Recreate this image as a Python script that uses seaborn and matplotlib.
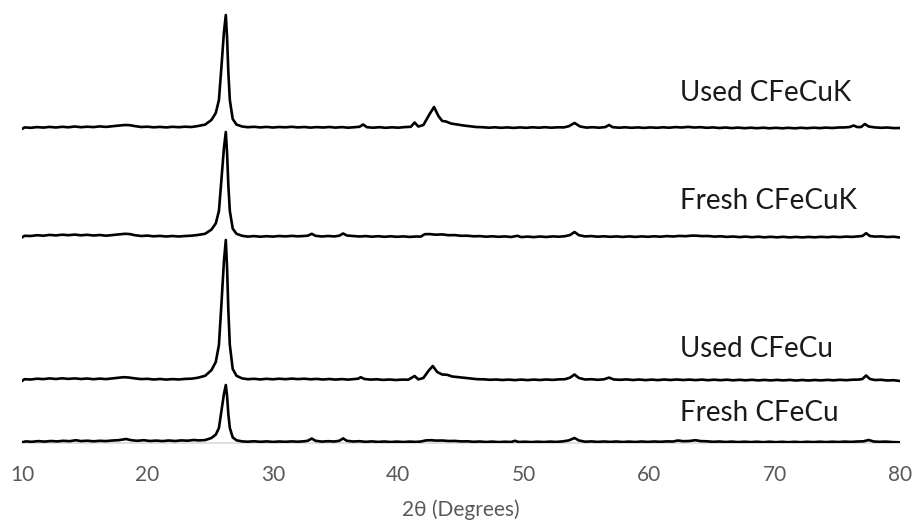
import numpy as np
import pandas as pd
import seaborn as sns
import matplotlib.pyplot as plt

# XRD traces: (2theta, intensity above own baseline, a.u.)
used_cfecuk = [
    (10.0, -1.0), (10.2, 0.6), (10.7, 0.2), (11.2, 0.9), (11.7, 0.4), (12.2, 1.1), (12.7, 0.5),
    (13.2, 1.2), (13.7, 0.7), (14.2, 1.5), (14.7, 0.8), (15.2, 1.3), (15.7, 0.9), (16.2, 1.6),
    (16.7, 1.1), (17.2, 1.8), (17.7, 2.4), (18.2, 3.0), (18.6, 2.8), (19.0, 1.9), (19.5, 1.0),
    (20.0, 1.3), (20.5, 0.7), (21.0, 1.1), (21.5, 0.6), (22.0, 1.2), (22.5, 0.8), (23.0, 1.3),
    (23.5, 1.0), (24.0, 1.9),
    (24.6, 3.4), (25.1, 8), (25.45, 15), (25.7, 28), (25.9, 61), (26.1, 96), (26.25, 113),
    (26.35, 90), (26.45, 56), (26.57, 28), (26.8, 9), (27.1, 3.4), (27.55, 1.5),
    (28.0, 0.8), (28.5, 1.2), (29.0, 0.6), (29.5, 1.1), (30.0, 0.5), (30.5, 1.0), (31.0, 0.7),
    (31.5, 1.2), (32.0, 0.6), (32.5, 1.0), (33.0, 0.4), (33.5, 0.9), (34.0, 0.5), (34.5, 1.0),
    (35.0, 0.4), (35.5, 0.9), (36.0, 0.3), (36.5, 0.8), (36.9, 1.2), (37.2, 3.5), (37.5, 0.8),
    (38.0, 0.3), (38.5, 0.8), (39.0, 0.2), (39.5, 0.7), (40.0, 0.3), (40.5, 0.9), (41.0, 1.2),
    (41.3, 5.5), (41.6, 1.5), (42.0, 3.0), (42.5, 14), (42.85, 21), (43.2, 12), (43.5, 7),
    (43.8, 6.5), (44.2, 4.5), (44.7, 3.5), (45.2, 2.5), (45.7, 1.8), (46.2, 1.0), (46.7, 0.8),
    (47.2, 0.3), (47.7, 0.7), (48.2, 0.2), (48.7, 0.6), (49.2, 0.1), (49.7, 0.6), (50.2, 0.2),
    (50.7, 0.7), (51.2, 0.3), (51.7, 0.8), (52.2, 0.3), (52.7, 0.7), (53.2, 0.6), (53.6, 1.8),
    (54.05, 5.0), (54.5, 1.5), (55.0, 0.4), (55.5, 0.8), (56.0, 0.3), (56.5, 0.9), (56.8, 3.0),
    (57.1, 0.8), (57.6, 0.3), (58.1, 0.7), (58.6, 0.2), (59.1, 0.6), (59.6, 0.1), (60.1, 0.6),
    (60.6, 0.2), (61.1, 0.7), (61.6, 0.3), (62.1, 0.9), (62.6, 0.5), (63.1, 1.1), (63.6, 0.5),
    (64.1, 0.8), (64.6, 0.2), (65.1, 0.6), (65.6, 0.0), (66.1, 0.5), (66.6, -0.1), (67.1, 0.4),
    (67.6, -0.2), (68.1, 0.3), (68.6, -0.2), (69.1, 0.3), (69.6, -0.3), (70.1, 0.2), (70.6, -0.3),
    (71.1, 0.2), (71.6, -0.3), (72.1, 0.2), (72.6, -0.2), (73.1, 0.3), (73.6, -0.1), (74.1, 0.4),
    (74.6, 0.0), (75.1, 0.5), (75.6, 0.6), (76.0, 1.0), (76.3, 2.5), (76.6, 0.9), (76.9, 1.0),
    (77.2, 4.0), (77.5, 1.5), (78.0, 0.6), (78.5, 0.2), (79.0, 0.5), (79.5, -0.1), (80.0, 0.0),
]

fresh_cfecuk = [
    (10.0, -0.5), (10.2, 1.2), (10.7, 1.0), (11.2, 1.8), (11.7, 1.3), (12.2, 2.1), (12.7, 1.6),
    (13.2, 2.3), (13.7, 1.8), (14.2, 2.4), (14.7, 1.7), (15.2, 2.2), (15.7, 1.5), (16.2, 2.0),
    (16.7, 1.3), (17.2, 1.9), (17.7, 2.4), (18.2, 3.2), (18.6, 2.9), (19.0, 1.8), (19.5, 1.0),
    (20.0, 1.4), (20.5, 0.7), (21.0, 1.1), (21.5, 0.5), (22.0, 1.0), (22.5, 0.5), (23.0, 1.0),
    (23.5, 1.3), (24.0, 2.0),
    (24.6, 3.2), (25.1, 7.4), (25.45, 13.6), (25.7, 26), (25.9, 57), (26.1, 89), (26.25, 105),
    (26.35, 84), (26.45, 52), (26.57, 26), (26.8, 8.4), (27.1, 3.2), (27.55, 1.2),
    (28.0, 0.4), (28.5, 0.9), (29.0, 0.3), (29.5, 0.8), (30.0, 0.4), (30.5, 1.0), (31.0, 0.6),
    (31.5, 1.1), (32.0, 0.7), (32.5, 1.0), (32.8, 1.4), (33.1, 3.2), (33.4, 1.2), (33.9, 0.5),
    (34.4, 1.0), (34.9, 0.6), (35.3, 1.3), (35.6, 3.5), (35.9, 1.5), (36.4, 1.0), (36.9, 0.5),
    (37.4, 0.9), (37.9, 0.3), (38.4, 0.8), (38.9, 0.2), (39.4, 0.7), (39.9, 0.2), (40.4, 0.6),
    (40.9, 0.1), (41.4, 0.5), (41.8, 0.4), (42.1, 2.8), (42.5, 2.9), (43.0, 2.3), (43.5, 2.6),
    (44.0, 1.8), (44.5, 1.9), (45.0, 1.2), (45.5, 1.3), (46.0, 0.7), (46.5, 0.9), (47.0, 0.3),
    (47.5, 0.7), (48.0, 0.2), (48.5, 0.6), (49.0, 0.0), (49.5, 1.2), (49.8, -0.1), (50.3, 0.4),
    (50.8, -0.1), (51.3, 0.5), (51.8, 0.0), (52.3, 0.6), (52.8, 0.3), (53.3, 0.8), (53.7, 2.0),
    (54.05, 5.0), (54.4, 1.8), (54.9, 0.6), (55.4, 0.9), (55.9, 0.3), (56.4, 0.7), (56.9, 0.2),
    (57.4, 0.6), (57.9, 0.1), (58.4, 0.6), (58.9, 0.1), (59.4, 0.6), (59.9, 0.2), (60.4, 0.7),
    (60.9, 0.3), (61.4, 0.9), (61.9, 0.5), (62.4, 1.1), (62.9, 0.8), (63.4, 1.4), (63.8, 1.3),
    (64.2, 0.9), (64.7, 1.0), (65.2, 0.4), (65.7, 0.7), (66.2, 0.1), (66.7, 0.5), (67.2, -0.1),
    (67.7, 0.4), (68.2, -0.2), (68.7, 0.3), (69.2, -0.3), (69.7, 0.2), (70.2, -0.3), (70.7, 0.2),
    (71.2, -0.4), (71.7, 0.1), (72.2, -0.4), (72.7, 0.1), (73.2, -0.3), (73.7, 0.2), (74.2, -0.2),
    (74.7, 0.3), (75.2, -0.1), (75.7, 0.4), (76.2, 0.1), (76.7, 0.6), (77.0, 1.0), (77.3, 3.8),
    (77.6, 1.0), (78.0, 0.4), (78.5, 0.6), (79.0, 0.0), (79.5, 0.3), (80.0, -0.5),
]

used_cfecu = [
    (10.0, -1.0), (10.2, 0.8), (10.7, 0.5), (11.2, 1.3), (11.7, 0.9), (12.2, 1.6), (12.7, 1.0),
    (13.2, 1.7), (13.7, 1.1), (14.2, 1.6), (14.7, 1.0), (15.2, 1.5), (15.7, 0.8), (16.2, 1.4),
    (16.7, 0.9), (17.2, 1.6), (17.7, 2.2), (18.1, 2.8), (18.5, 2.5), (19.0, 1.6), (19.5, 0.9),
    (20.0, 1.2), (20.5, 0.5), (21.0, 1.0), (21.5, 0.4), (22.0, 0.9), (22.5, 0.5), (23.0, 1.1),
    (23.5, 1.3), (24.0, 2.2),
    (24.6, 4.2), (25.1, 9.8), (25.45, 18), (25.7, 35), (25.9, 76), (26.1, 119), (26.25, 140),
    (26.35, 112), (26.45, 70), (26.57, 35), (26.8, 11), (27.1, 4.2), (27.55, 1.6),
    (28.0, 0.8), (28.5, 1.2), (29.0, 0.6), (29.5, 1.2), (30.0, 0.7), (30.5, 1.3), (31.0, 0.8),
    (31.5, 1.4), (32.0, 0.9), (32.5, 1.3), (33.0, 0.7), (33.5, 1.1), (34.0, 0.5), (34.5, 1.0),
    (35.0, 0.4), (35.5, 0.9), (36.0, 0.4), (36.5, 0.9), (36.8, 1.3), (37.0, 2.8), (37.3, 1.0),
    (37.8, 0.4), (38.3, 0.7), (38.8, 0.1), (39.3, 0.5), (39.8, 0.0), (40.3, 0.4), (40.8, 0.3),
    (41.3, 4.0), (41.6, 0.6), (42.0, 2.0), (42.4, 9.0), (42.75, 14.0), (43.1, 8.0), (43.5, 5.5),
    (43.9, 5.2), (44.3, 3.5), (44.8, 2.8), (45.3, 2.0), (45.8, 1.5), (46.3, 0.8), (46.8, 0.7),
    (47.3, 0.2), (47.8, 0.5), (48.3, 0.0), (48.8, 0.4), (49.3, -0.1), (49.8, 0.4), (50.3, -0.1),
    (50.8, 0.4), (51.3, 0.0), (51.8, 0.5), (52.3, 0.1), (52.8, 0.6), (53.3, 0.8), (53.7, 2.4),
    (54.05, 5.5), (54.4, 2.0), (54.9, 0.5), (55.4, 0.8), (55.9, 0.2), (56.4, 0.7), (56.8, 2.4),
    (57.2, 0.5), (57.7, 0.2), (58.2, 0.6), (58.7, 0.0), (59.2, 0.5), (59.7, -0.1), (60.2, 0.4),
    (60.7, -0.1), (61.2, 0.5), (61.7, 0.0), (62.2, 0.5), (62.7, 0.0), (63.2, 0.4), (63.7, -0.1),
    (64.2, 0.4), (64.7, -0.2), (65.2, 0.3), (65.7, -0.2), (66.2, 0.3), (66.7, -0.3), (67.2, 0.2),
    (67.7, -0.3), (68.2, 0.2), (68.7, -0.4), (69.2, 0.1), (69.7, -0.4), (70.2, 0.1), (70.7, -0.4),
    (71.2, 0.1), (71.7, -0.5), (72.2, 0.0), (72.7, -0.5), (73.2, 0.0), (73.7, -0.4), (74.2, 0.1),
    (74.7, -0.3), (75.2, 0.2), (75.7, -0.2), (76.2, 0.3), (76.7, 0.4), (77.0, 1.0), (77.3, 4.5),
    (77.6, 1.0), (78.0, 0.0), (78.5, 0.2), (79.0, -0.5), (79.5, -0.2), (80.0, -1.0),
]

fresh_cfecu = [
    (10.0, -0.3), (10.3, 0.6), (10.8, 0.2), (11.3, 0.9), (11.8, 0.4), (12.3, 1.0), (12.8, 0.6),
    (13.3, 1.2), (13.8, 0.8), (14.3, 1.8), (14.7, 0.9), (15.2, 1.3), (15.7, 0.7), (16.2, 1.2),
    (16.7, 0.9), (17.2, 1.5), (17.7, 1.8), (18.3, 3.0), (18.7, 1.8), (19.2, 1.2), (19.7, 1.8),
    (20.2, 1.0), (20.7, 1.4), (21.2, 0.9), (21.7, 1.5), (22.2, 1.0), (22.7, 1.6), (23.2, 1.3),
    (23.7, 2.0), (24.1, 1.6),
    (24.6, 1.9), (25.1, 4), (25.45, 7.4), (25.7, 14), (25.9, 31), (26.1, 48), (26.25, 57),
    (26.35, 46), (26.45, 28), (26.57, 14), (26.8, 4.6), (27.1, 1.7), (27.55, 0.6),
    (28.0, 0.3), (28.5, 0.7), (29.0, 0.2), (29.5, 0.6), (30.0, 0.1), (30.5, 0.5), (31.0, 0.2),
    (31.5, 0.6), (32.0, 0.3), (32.5, 0.7), (32.8, 1.3), (33.1, 3.5), (33.4, 1.2), (33.9, 0.4),
    (34.4, 0.8), (34.9, 0.5), (35.3, 1.2), (35.6, 3.6), (35.9, 1.2), (36.4, 0.5), (36.9, 0.8),
    (37.4, 0.2), (37.9, 0.6), (38.4, 0.1), (38.9, 0.5), (39.4, 0.0), (39.9, 0.4), (40.4, 0.0),
    (40.9, 0.4), (41.4, 0.1), (41.8, 0.5), (42.2, 1.6), (42.6, 1.8), (43.0, 1.4), (43.5, 1.5),
    (44.0, 1.0), (44.5, 1.1), (45.0, 0.6), (45.5, 0.7), (46.0, 0.2), (46.5, 0.5), (47.0, 0.0),
    (47.5, 0.4), (48.0, -0.1), (48.5, 0.3), (49.0, 0.0), (49.3, 1.2), (49.6, 0.0), (50.1, 0.3),
    (50.6, -0.1), (51.1, 0.3), (51.6, 0.0), (52.1, 0.4), (52.6, 0.1), (53.1, 0.6), (53.6, 1.6),
    (54.05, 4.0), (54.4, 1.5), (54.9, 0.3), (55.4, 0.6), (55.9, 0.1), (56.4, 0.5), (56.9, 0.1),
    (57.4, 0.5), (57.9, 0.0), (58.4, 0.4), (58.9, 0.0), (59.4, 0.5), (59.9, 0.1), (60.4, 0.5),
    (60.9, 0.2), (61.4, 0.6), (61.9, 0.5), (62.3, 1.5), (62.7, 0.8), (63.2, 1.0), (63.7, 1.8),
    (64.1, 0.9), (64.6, 0.7), (65.1, 0.2), (65.6, 0.5), (66.1, 0.0), (66.6, 0.4), (67.1, -0.1),
    (67.6, 0.3), (68.1, -0.1), (68.6, 0.3), (69.1, -0.2), (69.6, 0.3), (70.1, -0.2), (70.6, 0.2),
    (71.1, -0.2), (71.6, 0.2), (72.1, -0.2), (72.6, 0.2), (73.1, -0.1), (73.6, 0.3), (74.1, -0.1),
    (74.6, 0.3), (75.1, 0.0), (75.6, 0.4), (76.1, 0.1), (76.6, 0.5), (77.1, 0.7), (77.5, 2.0),
    (77.9, 0.5), (78.4, 0.2), (78.9, 0.4), (79.4, -0.1), (80.0, -0.3),
]

samples = ["Used CFeCuK", "Fresh CFeCuK", "Used CFeCu", "Fresh CFeCu"]
traces = [used_cfecuk, fresh_cfecuk, used_cfecu, fresh_cfecu]
offsets = [315, 206, 63, 1]          # vertical stacking of the patterns
label_y = [342, 234, 86, 22]         # baseline of the sample names
label_x = 62.5
x_ticks = [10, 20, 30, 40, 50, 60, 70, 80]

frames = []
for name, pts, off in zip(samples, traces, offsets):
    d = pd.DataFrame(pts, columns=["theta", "intensity"])
    d["intensity"] = d["intensity"] + off
    d["sample"] = name
    frames.append(d)
df = pd.concat(frames, ignore_index=True)

sns.set_style("white")
plt.rcParams['font.family'] = ['Lato', 'DejaVu Sans']

fig = plt.figure(figsize=(9.17, 5.29), dpi=100)
ax = fig.add_axes([22 / 917, 86 / 529, 878 / 917, 443 / 529])

sns.lineplot(data=df, x="theta", y="intensity", hue="sample",
             palette={s: "black" for s in samples}, estimator=None,
             sort=False, linewidth=1.9, legend=False, ax=ax)

for name, ly in zip(samples, label_y):
    ax.text(label_x, ly, name, fontsize=20, color="#1a1a1a", va="baseline", ha="left")

ax.set_xlim(10, 80)
ax.set_ylim(0, 443)
ax.set_xticks(x_ticks)
ax.set_yticks([])
ax.set_ylabel("")
ax.set_xlabel("2θ (Degrees)", fontsize=15, color="#595959", labelpad=10)
ax.tick_params(axis="x", length=0, pad=16, labelsize=15, labelcolor="#595959")

for s in ["top", "left", "right"]:
    ax.spines[s].set_visible(False)
ax.spines["bottom"].set_color("#d9d9d9")
ax.spines["bottom"].set_linewidth(1.2)
ax.spines["bottom"].set_zorder(0)

fig.savefig("out.png", dpi=100)
